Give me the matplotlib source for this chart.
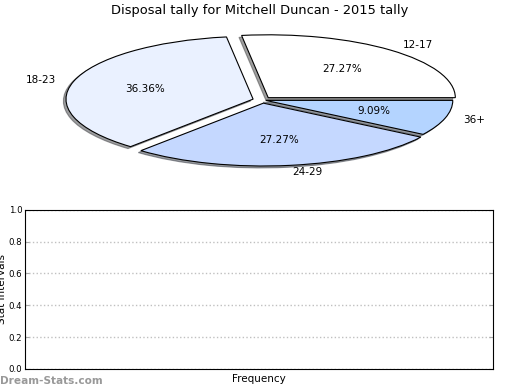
import matplotlib
matplotlib.use("Agg")
import matplotlib.pyplot as plt

categories = ["12-17", "18-23", "24-29", "36+"]
values = [3, 4, 3, 1]
colors = ["#FFFFFF", "#EAF1FF", "#C5D8FF", "#B4D4FF"]
explode = [0.05, 0.05, 0.05, 0.02]
yticks = [0.0, 0.2, 0.4, 0.6, 0.8, 1.0]

fig = plt.figure(figsize=(5.2, 3.9), dpi=100)
fig.patch.set_facecolor("white")

ax1 = fig.add_axes([0.101, 0.563, 0.806, 0.361])
wedges, texts, autotexts = ax1.pie(
    values, labels=categories, colors=colors, explode=explode,
    autopct="%.2f%%", startangle=0,
    shadow=dict(ox=-0.01, oy=-0.022, shade=0.75),
    wedgeprops=dict(edgecolor="black", linewidth=0.8),
    textprops=dict(fontsize=7.5),
)
ax1.set_aspect("auto")
ax1.set_xlim(-1.12, 1.12)
ax1.set_ylim(-1.12, 1.12)
fig.text(0.5, 0.973, "Disposal tally for Mitchell Duncan - 2015 tally",
         ha="center", va="center", fontsize=9.4)

ax2 = fig.add_axes([0.048, 0.054, 0.9, 0.408])
ax2.set_ylim(0, 1)
ax2.set_xlim(0, 1)
ax2.set_yticks(yticks)
ax2.set_yticklabels([f"{v:.1f}" for v in yticks], fontsize=6.2)
ax2.set_xticks([])
ax2.tick_params(axis="y", direction="in", length=3, color="#AAAAAA", right=True, pad=2)
ax2.grid(axis="y", linestyle=":", color="#C0C0C0", linewidth=1)
ax2.set_xlabel("Frequency", fontsize=7.5, labelpad=4)
ax2.set_ylabel("Stat Intervals", fontsize=7.5, labelpad=1)
for s in ax2.spines.values():
    s.set_linewidth(0.8)
fig.text(0.0, 0.022, "Dream-Stats.com", fontsize=7.6, color="#999999",
         fontweight="bold", ha="left", va="center")

fig.savefig("out.png", dpi=100)
